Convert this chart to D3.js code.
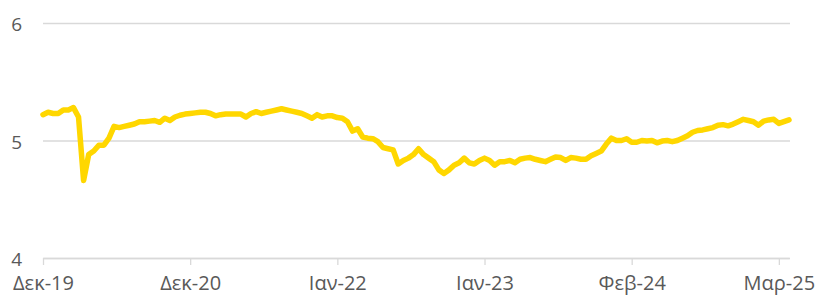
<!DOCTYPE html>
<html>
<head>
<meta charset="utf-8">
<script src="https://cdn.jsdelivr.net/npm/d3@7"></script>
<style>
  body { margin: 0; background: #fff; }
  .tick text { font-family: "Open Sans", sans-serif; fill: #595959; }
</style>
</head>
<body>
<svg id="chart"></svg>
<script>
// weekly-ish series
var values = [
  5.22, 5.24, 5.23, 5.23, 5.26, 5.26, 5.28, 5.20, 4.66, 4.88,
  4.91, 4.96, 4.96, 5.02, 5.12, 5.11, 5.12, 5.13, 5.14, 5.16,
  5.16, 5.165, 5.17, 5.155, 5.19, 5.17, 5.20, 5.215, 5.225, 5.23,
  5.235, 5.24, 5.24, 5.23, 5.21, 5.22, 5.225, 5.225, 5.225, 5.225,
  5.20, 5.23, 5.245, 5.23, 5.24, 5.25, 5.26, 5.27, 5.26, 5.25,
  5.24, 5.23, 5.21, 5.19, 5.22, 5.20, 5.21, 5.21, 5.195, 5.19,
  5.16, 5.08, 5.10, 5.03, 5.02, 5.015, 4.99, 4.94, 4.93, 4.92,
  4.80, 4.83, 4.85, 4.88, 4.93, 4.88, 4.85, 4.82, 4.75, 4.72,
  4.75, 4.79, 4.81, 4.85, 4.81, 4.80, 4.83, 4.85, 4.83, 4.79,
  4.82, 4.82, 4.83, 4.81, 4.84, 4.85, 4.855, 4.84, 4.83, 4.82,
  4.84, 4.86, 4.855, 4.83, 4.855, 4.85, 4.84, 4.84, 4.87, 4.89,
  4.91, 4.97, 5.02, 5.00, 5.00, 5.015, 4.985, 4.985, 5.00, 4.995,
  5.00, 4.98, 4.995, 5.00, 4.99, 5.00, 5.02, 5.04, 5.07, 5.085,
  5.09, 5.10, 5.11, 5.13, 5.135, 5.125, 5.14, 5.16, 5.18, 5.17,
  5.16, 5.13, 5.165, 5.175, 5.18, 5.145, 5.16, 5.175
];

var tickIdx = [0, 29, 58, 87, 116, 145];
var tickLabels = ["Δεκ-19", "Δεκ-20", "Ιαν-22", "Ιαν-23", "Φεβ-24", "Μαρ-25"];
var yTicks = [4, 5, 6];

var svgWidth = 816, svgHeight = 296;
var plotLeft = 43, plotRight = 789, plotTop = 23, plotBottom = 258;

var svg = d3.select("#chart")
    .attr("width", svgWidth)
    .attr("height", svgHeight);

var x = d3.scaleLinear()
    .domain([0, values.length - 1])
    .range([plotLeft, plotRight]);

var y = d3.scaleLinear()
    .domain([4, 6])
    .range([plotBottom, plotTop]);

// horizontal gridlines + y labels
var yAxis = svg.append("g")
    .attr("transform", "translate(" + plotLeft + ",0)")
    .call(d3.axisLeft(y).tickValues(yTicks).tickSize(-(plotRight - plotLeft + 1)).tickPadding(21).tickFormat(d3.format("d")));
yAxis.select(".domain").remove();
yAxis.selectAll(".tick line").attr("stroke", "#d9d9d9").attr("stroke-width", 1.3);
yAxis.selectAll(".tick text").attr("font-size", "19px").attr("dy", "0.4em");

// category axis
var xAxis = svg.append("g")
    .attr("transform", "translate(0," + plotBottom + ")")
    .call(d3.axisBottom(x).tickValues(tickIdx).tickSize(7).tickSizeOuter(0).tickPadding(11)
      .tickFormat(function(d, i) { return tickLabels[i]; }));
xAxis.select(".domain").attr("stroke", "#d9d9d9").attr("stroke-width", 1.3);
xAxis.selectAll(".tick line").attr("stroke", "#d9d9d9").attr("stroke-width", 1.3);
xAxis.selectAll(".tick text").attr("font-size", "20px");

var line = d3.line()
    .x(function(d, i) { return x(i); })
    .y(function(d) { return y(d); });

svg.append("path")
    .datum(values)
    .attr("fill", "none")
    .attr("stroke", "#ffd700")
    .attr("stroke-width", 5.5)
    .attr("stroke-linejoin", "round")
    .attr("stroke-linecap", "round")
    .attr("d", line);
</script>
</body>
</html>
